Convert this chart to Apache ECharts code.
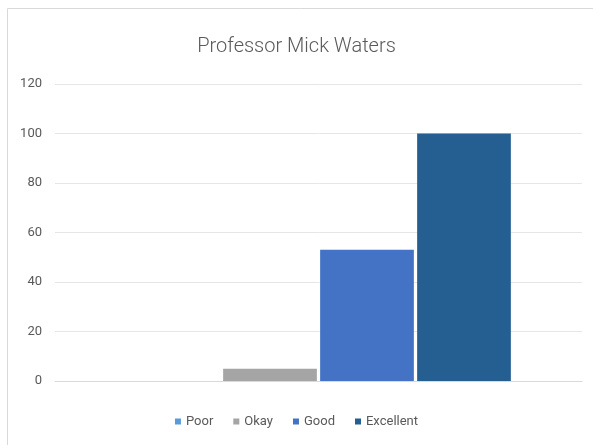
<!DOCTYPE html>
<html>
<head>
<meta charset="utf-8">
<script src="https://cdn.jsdelivr.net/npm/echarts@6/dist/echarts.min.js"></script>
<style>html,body{margin:0;padding:0;background:#fff}#c{width:593px;height:445px}</style>
</head>
<body>
<div id="c"></div>
<script>
var categories = ['Professor Mick Waters'];
var seriesNames = ['Poor', 'Okay', 'Good', 'Excellent'];
var poorValues = [0];
var okayValues = [5];
var goodValues = [53];
var excellentValues = [100];
var yTicks = [0, 20, 40, 60, 80, 100, 120];

var colors = ['#5B9BD5', '#A5A5A5', '#4472C4', '#255E91'];
var values = [poorValues, okayValues, goodValues, excellentValues];
var font = 'Roboto, sans-serif';

var chart = echarts.init(document.getElementById('c'));
chart.setOption({
  animation: false,
  color: colors,
  title: {
    text: 'Professor Mick Waters',
    left: 'center',
    top: 32,
    textStyle: { fontFamily: font, fontSize: 20, fontWeight: 300, color: '#595959' }
  },
  graphic: [{
    type: 'rect',
    shape: { x: 7.5, y: 8.5, width: 600, height: 450 },
    style: { fill: 'none', stroke: '#d9d9d9', lineWidth: 1 },
    silent: true
  }],
  legend: {
    data: seriesNames,
    bottom: 12,
    left: 'center',
    icon: 'rect',
    itemWidth: 6,
    itemHeight: 6,
    itemGap: 20,
    textStyle: { fontFamily: font, fontSize: 13, color: '#595959' }
  },
  grid: { left: 55, right: 11, top: 84, bottom: 64 },
  xAxis: {
    type: 'category',
    data: categories,
    axisLabel: { show: false },
    axisTick: { show: false },
    axisLine: { lineStyle: { color: '#d9d9d9' } }
  },
  yAxis: {
    type: 'value',
    min: yTicks[0],
    max: yTicks[yTicks.length - 1],
    interval: yTicks[1] - yTicks[0],
    axisLine: { show: false },
    axisTick: { show: false },
    axisLabel: { margin: 13, fontFamily: font, fontSize: 13, color: '#595959' },
    splitLine: { lineStyle: { color: '#e6e6e6' } }
  },
  series: seriesNames.map(function (n, i) {
    return {
      name: n,
      type: 'bar',
      data: values[i],
      barGap: '3.5%',
      barCategoryGap: '27%'
    };
  })
});
</script>
</body>
</html>
